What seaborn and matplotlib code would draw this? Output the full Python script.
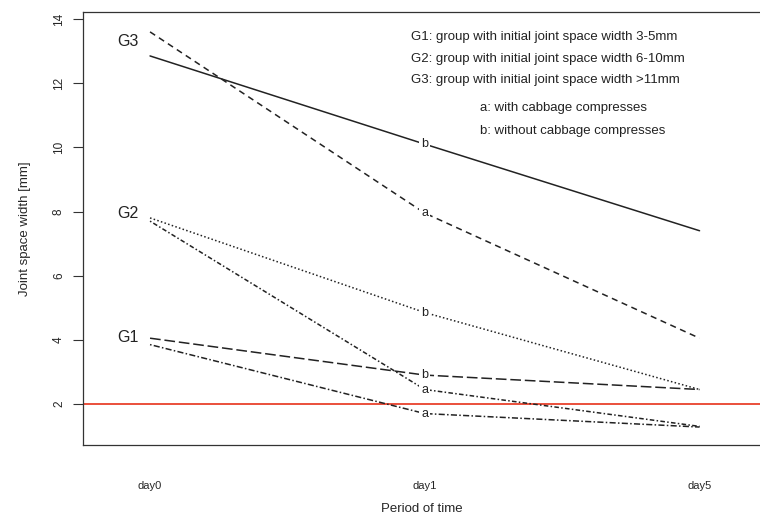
import pandas as pd
import matplotlib
matplotlib.use('Agg')
import matplotlib.pyplot as plt
import seaborn as sns

days = ['day0', 'day1', 'day5']
day_pos = [1, 2, 3]

g3_b = [12.85, 10.1, 7.4]
g3_a = [13.6, 7.95, 4.05]
g2_b = [7.8, 4.85, 2.45]
g2_a = [7.7, 2.45, 1.3]
g1_b = [4.05, 2.9, 2.45]
g1_a = [3.85, 1.7, 1.28]

series = {
    'G3 b': g3_b, 'G3 a': g3_a,
    'G2 b': g2_b, 'G2 a': g2_a,
    'G1 b': g1_b, 'G1 a': g1_a,
}
dash_styles = {
    'G3 b': '', 'G3 a': (4, 3),
    'G2 b': (1, 1.5), 'G2 a': (1, 1.5, 3, 1.5),
    'G1 b': (7, 2.5), 'G1 a': (1, 1.5, 4, 1.5),
}
group_labels = ['G3', 'G2', 'G1']
group_y = [13.3, 7.95, 4.06]
legend_lines = ['G1: group with initial joint space width 3-5mm',
                'G2: group with initial joint space width 6-10mm',
                'G3: group with initial joint space width >11mm']
legend_ab = ['a: with cabbage compresses', 'b: without cabbage compresses']

rows = []
for name, vals in series.items():
    for p, v in zip(day_pos, vals):
        rows.append({'pos': p, 'width': v, 'series': name})
df = pd.DataFrame(rows)

sns.set_style('white')
plt.rcParams['font.family'] = ['Liberation Sans', 'DejaVu Sans']

fig = plt.figure(figsize=(7.6, 5.2), dpi=100)
ax = fig.add_axes([83 / 760, 75 / 520, 677 / 760, 433 / 520])

sns.lineplot(data=df, x='pos', y='width', hue='series', style='series',
             palette={k: '#222222' for k in series}, dashes=dash_styles,
             linewidth=1.1, legend=False, ax=ax)

ax.axhline(2, color='#e8412c', linewidth=1.3, zorder=1)

# a / b markers at day1, line broken around them
for name, vals in series.items():
    ax.text(2, vals[1], name[-1], ha='center', va='center', fontsize=9,
            color='#222222',
            bbox=dict(facecolor='white', edgecolor='none', pad=1.5))

for lab, y in zip(group_labels, group_y):
    ax.text(0.92, y, lab, ha='center', va='center', fontsize=11.5,
            color='#222222')

for i, t in enumerate(legend_lines):
    ax.text(1.95, 13.43 - i * 0.67, t, ha='left', va='center', fontsize=9.5,
            color='#222222')
for i, t in enumerate(legend_ab):
    ax.text(2.2, 11.22 - i * 0.72, t, ha='left', va='center', fontsize=9.5,
            color='#222222')

ax.set_xlim(0.756, 3.22)
ax.set_ylim(0.72, 14.22)
ax.set_xticks(day_pos)
ax.set_xticklabels(days, fontsize=8)
ax.set_yticks(range(2, 15, 2))
ax.set_yticklabels([str(v) for v in range(2, 15, 2)], fontsize=8.5,
                   rotation=90, va='center')
ax.tick_params(axis='x', length=0, pad=26)
ax.tick_params(axis='y', length=7, width=0.8, color='#333333', left=True,
               pad=6)
ax.set_xlabel('Period of time', fontsize=9.5)
ax.set_ylabel('Joint space width [mm]', fontsize=9.5)
ax.xaxis.set_label_coords(0.5, -0.135)
ax.yaxis.set_label_coords(-0.077, 0.5)
ax.spines['right'].set_visible(False)
for s in ['left', 'top', 'bottom']:
    ax.spines[s].set_color('#333333')
    ax.spines[s].set_linewidth(0.9)

fig.savefig('out.png', dpi=100)
